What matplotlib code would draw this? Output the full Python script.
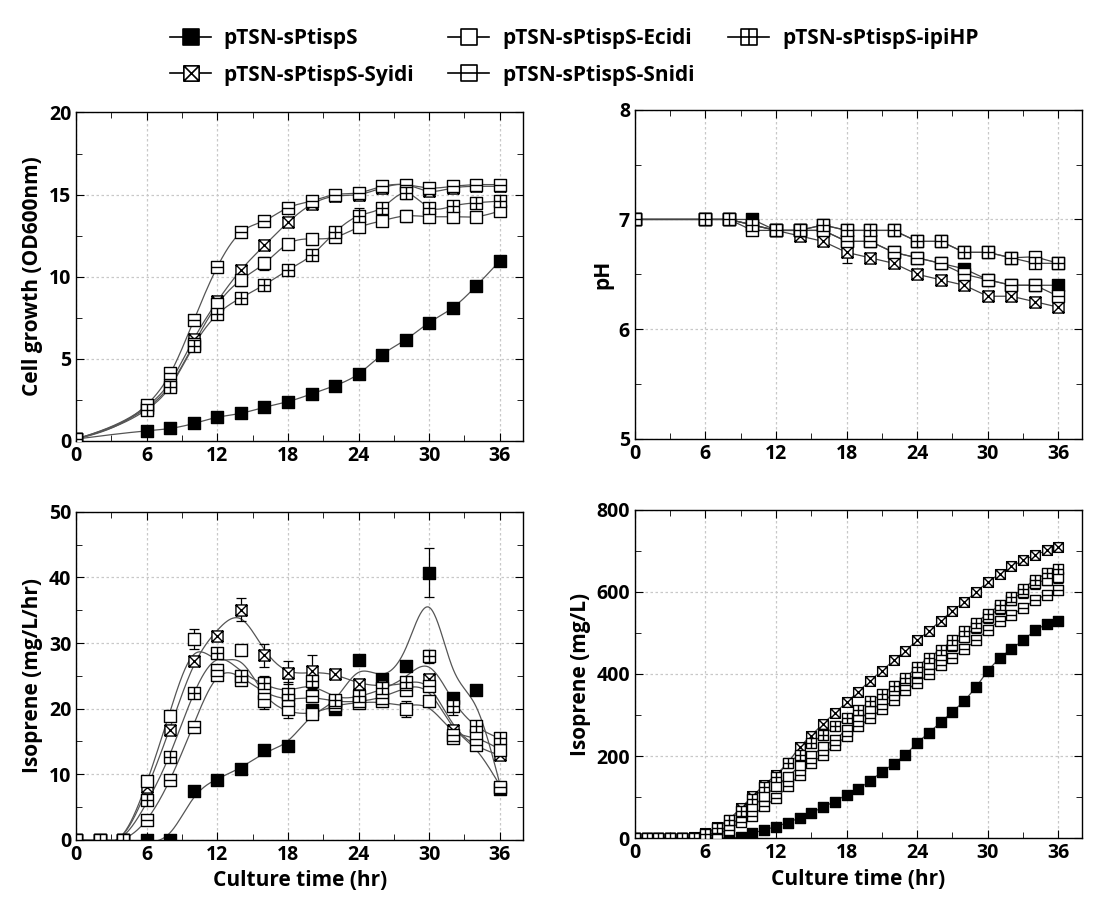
import numpy as np
import matplotlib.pyplot as plt
from matplotlib.path import Path
from matplotlib.lines import Line2D
from matplotlib.ticker import MultipleLocator

plt.rcParams['font.family'] = ['Open Sans', 'DejaVu Sans']

# sampling times (hr)
t_growth = [0, 6, 8, 10, 12, 14, 16, 18, 20, 22, 24, 26, 28, 30, 32, 34, 36]
t_rate = [0, 2, 4, 6, 8, 10, 12, 14, 16, 18, 20, 22, 24, 26, 28, 30, 32, 34, 36]
t_cum = [0, 1, 2, 3, 4, 5, 6, 7, 8, 9, 10, 11, 12, 13, 14, 15, 16, 17, 18,
         19, 20, 21, 22, 23, 24, 25, 26, 27, 28, 29, 30, 31, 32, 33, 34, 35, 36]

strains = ['pTSN-sPtispS', 'pTSN-sPtispS-Syidi', 'pTSN-sPtispS-Ecidi',
           'pTSN-sPtispS-Snidi', 'pTSN-sPtispS-ipiHP']

# cell growth (OD600)
od_ptisps = [0.1, 0.6, 0.75, 1.05, 1.43, 1.67, 2.04, 2.38, 2.85, 3.36, 4.07, 5.25, 6.15, 7.2, 8.1, 9.43, 10.95]
od_syidi = [0.1, 2.1, 3.6, 6.2, 8.5, 10.4, 11.9, 13.3, 14.4, 14.9, 15.0, 15.4, 15.6, 15.2, 15.4, 15.5, 15.5]
od_ecidi = [0.1, 2.0, 3.4, 5.9, 8.3, 9.8, 10.8, 12.0, 12.3, 12.4, 13.0, 13.4, 13.7, 13.65, 13.65, 13.65, 14.0]
od_snidi = [0.1, 2.2, 4.1, 7.35, 10.6, 12.7, 13.4, 14.2, 14.6, 15.0, 15.1, 15.5, 15.6, 15.4, 15.5, 15.6, 15.6]
od_ipihp = [0.1, 1.9, 3.3, 5.8, 7.7, 8.7, 9.5, 10.4, 11.3, 12.7, 13.7, 14.2, 15.1, 14.2, 14.3, 14.5, 14.6]
od_err_ptisps = [0, 0, 0, 0, 0, 0, 0, 0, 0, 0, 0, 0.3, 0, 0, 0, 0, 0.1]
od_err_syidi = [0, 0, 0, 0, 0.1, 0.1, 0, 0, 0, 0, 0, 0, 0, 0, 0, 0, 0.3]
od_err_ecidi = [0, 0, 0, 0, 0, 0.35, 0.4, 0, 0, 0, 0, 0, 0.35, 0, 0, 0, 0]
od_err_snidi = [0, 0, 0, 0, 0, 0, 0, 0, 0.3, 0, 0, 0.2, 0, 0, 0, 0, 0]
od_err_ipihp = [0, 0, 0, 0, 0, 0, 0, 0, 0, 0.35, 0.45, 0, 0.4, 0, 0, 0, 0]

# pH
ph_ptisps = [7.0, 7.0, 7.0, 7.0, 6.9, 6.9, 6.9, 6.8, 6.8, 6.7, 6.65, 6.6, 6.55, 6.45, 6.4, 6.4, 6.4]
ph_syidi = [7.0, 7.0, 7.0, 6.95, 6.9, 6.85, 6.8, 6.7, 6.65, 6.6, 6.5, 6.45, 6.4, 6.3, 6.3, 6.25, 6.2]
ph_ecidi = [7.0, 7.0, 7.0, 6.95, 6.9, 6.9, 6.95, 6.9, 6.9, 6.9, 6.8, 6.8, 6.7, 6.7, 6.65, 6.66, 6.6]
ph_snidi = [7.0, 7.0, 7.0, 6.9, 6.9, 6.9, 6.9, 6.8, 6.8, 6.7, 6.65, 6.6, 6.5, 6.45, 6.4, 6.4, 6.3]
ph_ipihp = [7.0, 7.0, 7.0, 6.95, 6.9, 6.9, 6.95, 6.9, 6.9, 6.9, 6.8, 6.8, 6.7, 6.7, 6.65, 6.6, 6.6]
ph_err_ptisps = [0, 0, 0, 0, 0, 0, 0, 0, 0, 0, 0.03, 0, 0, 0.03, 0, 0, 0]
ph_err_syidi = [0, 0, 0, 0, 0, 0.03, 0, 0.1, 0.03, 0, 0, 0.03, 0, 0, 0, 0.03, 0]
ph_err_ecidi = [0, 0, 0, 0, 0, 0, 0, 0, 0, 0, 0, 0, 0, 0, 0, 0.02, 0]
ph_err_snidi = [0, 0, 0, 0, 0, 0, 0, 0, 0, 0, 0, 0, 0.02, 0, 0, 0, 0]
ph_err_ipihp = [0, 0, 0, 0, 0, 0, 0.03, 0, 0, 0, 0, 0, 0, 0, 0.03, 0, 0]

# specific isoprene production rate (mg/L/hr)
rate_ptisps = [0, 0, 0, 0, 0, 7.5, 9.1, 10.8, 13.7, 14.3, 19.8, 20.0, 27.4, 24.5, 26.5, 40.7, 21.6, 22.8, 7.8]
rate_syidi = [0, 0, 0, 8.1, 16.8, 27.3, 31.1, 35.1, 28.1, 25.5, 25.7, 25.3, 23.8, 23.5, 23.4, 24.5, 16.75, 14.5, 13.0]
rate_ecidi = [0, 0, 0, 9.0, 18.9, 30.6, 25.1, 29.0, 21.1, 19.9, 19.2, 20.6, 20.8, 21.1, 19.9, 21.2, 15.6, 16.0, 13.7]
rate_snidi = [0, 0, 0, 3.0, 9.2, 17.2, 25.9, 24.4, 22.4, 21.3, 22.0, 21.0, 21.2, 21.6, 22.9, 23.5, 16.0, 14.5, 8.1]
rate_ipihp = [0, 0, 0, 6.1, 12.6, 22.4, 28.5, 25.0, 23.9, 22.3, 24.2, 21.3, 22.0, 23.1, 24.0, 28.0, 20.4, 17.3, 15.6]
rate_err_ptisps = [0, 0, 0, 0, 0, 0, 0, 0.8, 0, 0, 0, 0, 0, 0, 0, 3.7, 0, 0, 0]
rate_err_syidi = [0, 0, 0, 0, 0, 0, 0.5, 1.8, 1.8, 1.7, 2.5, 0, 0, 0, 0, 0.5, 0, 0, 0]
rate_err_ecidi = [0, 0, 0, 0, 0, 1.5, 0, 0, 0, 0, 0, 0, 0, 0, 1.2, 0.5, 0, 0, 0]
rate_err_snidi = [0, 0, 0, 0, 0, 0, 0, 0, 2.5, 2.8, 1.0, 0, 0, 0.6, 0, 0, 0, 0, 0]
rate_err_ipihp = [0, 0, 0, 0, 0.5, 0, 0.5, 0, 0, 0, 0, 0, 0, 0, 0, 1.0, 1.3, 0.8, 0.6]

# cumulative isoprene (mg/L)
cum_ptisps = [0, 0, 0, 0, 0, 0, 0, 0, 0, 3, 12, 20, 28, 38, 49, 61, 76, 89, 106, 119, 140, 161, 181,
              203, 232, 257, 282, 308, 334, 368, 408, 439, 461, 482, 506, 522, 528]
cum_syidi = [0, 0, 0, 0, 0, 2, 12, 27, 45, 73, 102, 130, 154, 183, 222, 250, 279, 305, 331, 357, 384,
             408, 433, 457, 482, 505, 530, 554, 575, 600, 624, 644, 662, 677, 690, 701, 709]
cum_ipihp = [0, 0, 0, 0, 0, 0, 10, 25, 45, 65, 95, 125, 150, 183, 203, 232, 252, 272, 292, 313, 333,
             352, 370, 390, 418, 440, 459, 482, 504, 525, 547, 567, 587, 608, 630, 645, 656]
cum_ecidi = [0, 0, 0, 0, 0, 0, 5, 15, 30, 50, 75, 102, 126, 150, 175, 199, 223, 240, 264, 288, 309,
             330, 353, 380, 406, 425, 443, 470, 491, 515, 539, 560, 581, 600, 621, 630, 636]
cum_snidi = [0, 0, 0, 0, 0, 0, 3, 10, 20, 40, 55, 78, 97, 126, 154, 183, 203, 227, 248, 272, 292,
             315, 337, 360, 378, 400, 422, 440, 460, 482, 508, 530, 544, 560, 581, 593, 605]
cum_err_ecidi = [0, 0, 0, 0, 0, 0, 0, 0, 0, 0, 0, 0, 0, 0, 0, 0, 0, 0, 0, 12, 12, 12, 14, 14, 14,
                 14, 14, 14, 14, 14, 14, 14, 14, 14, 14, 14, 14]


def box_marker(inner):
    verts = [(-1, -1), (1, -1), (1, 1), (-1, 1), (-1, -1)]
    codes = [Path.MOVETO, Path.LINETO, Path.LINETO, Path.LINETO, Path.CLOSEPOLY]
    if inner in ('plus', 'minus'):
        verts += [(-1, 0), (1, 0)]
        codes += [Path.MOVETO, Path.LINETO]
    if inner == 'plus':
        verts += [(0, -1), (0, 1)]
        codes += [Path.MOVETO, Path.LINETO]
    if inner == 'x':
        verts += [(-1, -1), (1, 1), (-1, 1), (1, -1)]
        codes += [Path.MOVETO, Path.LINETO, Path.MOVETO, Path.LINETO]
    return Path(verts, codes)


markers = [box_marker('none'), box_marker('x'), box_marker('none'),
           box_marker('minus'), box_marker('plus')]
faces = ['black', 'white', 'white', 'white', 'white']


def smooth(x, y, lam, step=0.05):
    # smoothing spline on a fine grid (second difference penalty)
    xs = np.arange(x[0], x[-1] + step / 2, step)
    n = len(xs)
    idx = np.round((np.asarray(x) - x[0]) / step).astype(int)
    w = np.zeros(n)
    wy = np.zeros(n)
    w[idx] = 1
    wy[idx] = y
    D = np.diff(np.eye(n), 2, axis=0)
    A = np.diag(w) + lam / step ** 3 * D.T @ D
    return xs, np.linalg.solve(A, wy)


def draw(ax, t, series, errs, lam=None, ms=8):
    for k in range(len(series)):
        y = series[k]
        if lam is None:
            ax.plot(t, y, color='#444444', lw=0.9, zorder=2)
        else:
            xs, ys = smooth(t, y, lam)
            ax.plot(xs, ys, color='#555555', lw=0.9, zorder=2)
        if errs[k] is not None:
            e = np.asarray(errs[k], dtype=float)
            m = e > 0
            ax.errorbar(np.asarray(t)[m], np.asarray(y)[m], yerr=e[m], fmt='none',
                        ecolor='black', elinewidth=0.9, capsize=3.5, capthick=0.9, zorder=3)
        ax.plot(t, y, ls='none', marker=markers[k], ms=ms, mfc=faces[k], mec='black',
                mew=1.0, zorder=4)


def style(ax, ymax, ymin, major, minor):
    ax.set_xlim(0, 38)
    ax.set_ylim(ymin, ymax)
    ax.xaxis.set_major_locator(MultipleLocator(6))
    ax.xaxis.set_minor_locator(MultipleLocator(3))
    ax.yaxis.set_major_locator(MultipleLocator(major))
    ax.yaxis.set_minor_locator(MultipleLocator(minor))
    ax.tick_params(which='both', direction='in', top=True, right=True, labelsize=14)
    ax.tick_params(which='major', length=6)
    ax.tick_params(which='minor', length=4)
    ax.grid(True, which='major', color='#c8c8c8', ls=(0, (2, 2)), lw=0.9)
    for lab in ax.get_xticklabels() + ax.get_yticklabels():
        lab.set_fontweight('bold')
    for s in ax.spines.values():
        s.set_linewidth(1.0)


fig = plt.figure(figsize=(11.04, 9.22), dpi=100)
ax1 = fig.add_axes([0.069, 0.522, 0.405, 0.356])
ax2 = fig.add_axes([0.575, 0.524, 0.405, 0.357])
ax3 = fig.add_axes([0.069, 0.089, 0.405, 0.356])
ax4 = fig.add_axes([0.575, 0.091, 0.405, 0.356])

lab_font = {'fontsize': 15, 'fontweight': 'bold'}

draw(ax1, t_growth, [od_ptisps, od_syidi, od_ecidi, od_snidi, od_ipihp],
     [od_err_ptisps, od_err_syidi, od_err_ecidi, od_err_snidi, od_err_ipihp], lam=0.01)
style(ax1, 20, 0, 5, 2.5)
ax1.set_ylabel('Cell growth (OD600nm)', **lab_font)

draw(ax2, t_growth, [ph_ptisps, ph_syidi, ph_ecidi, ph_snidi, ph_ipihp],
     [ph_err_ptisps, ph_err_syidi, ph_err_ecidi, ph_err_snidi, ph_err_ipihp])
style(ax2, 8, 5, 1, 0.5)
ax2.set_ylabel('pH', **lab_font)

draw(ax3, t_rate, [rate_ptisps, rate_syidi, rate_ecidi, rate_snidi, rate_ipihp],
     [rate_err_ptisps, rate_err_syidi, rate_err_ecidi, rate_err_snidi, rate_err_ipihp], lam=0.5)
style(ax3, 50, 0, 10, 5)
ax3.set_ylabel('Isoprene (mg/L/hr)', **lab_font)
ax3.set_xlabel('Culture time (hr)', **lab_font)

draw(ax4, t_cum, [cum_ptisps, cum_syidi, cum_ecidi, cum_snidi, cum_ipihp],
     [None, None, cum_err_ecidi, None, None], ms=7)
style(ax4, 800, 0, 200, 100)
ax4.set_ylabel('Isoprene (mg/L)', **lab_font)
ax4.set_xlabel('Culture time (hr)', **lab_font)

handles = [Line2D([], [], color='black', lw=1.2, marker=markers[k], ms=11,
                  mfc=faces[k], mec='black', mew=1.2) for k in range(5)]
fig.legend(handles, strains, loc='upper center', bbox_to_anchor=(0.52, 0.99), ncol=3,
           frameon=False, handlelength=2.0, handletextpad=0.6, columnspacing=1.6,
           labelspacing=0.75, prop={'weight': 'bold', 'size': 15})

fig.savefig('out.png', dpi=100)
